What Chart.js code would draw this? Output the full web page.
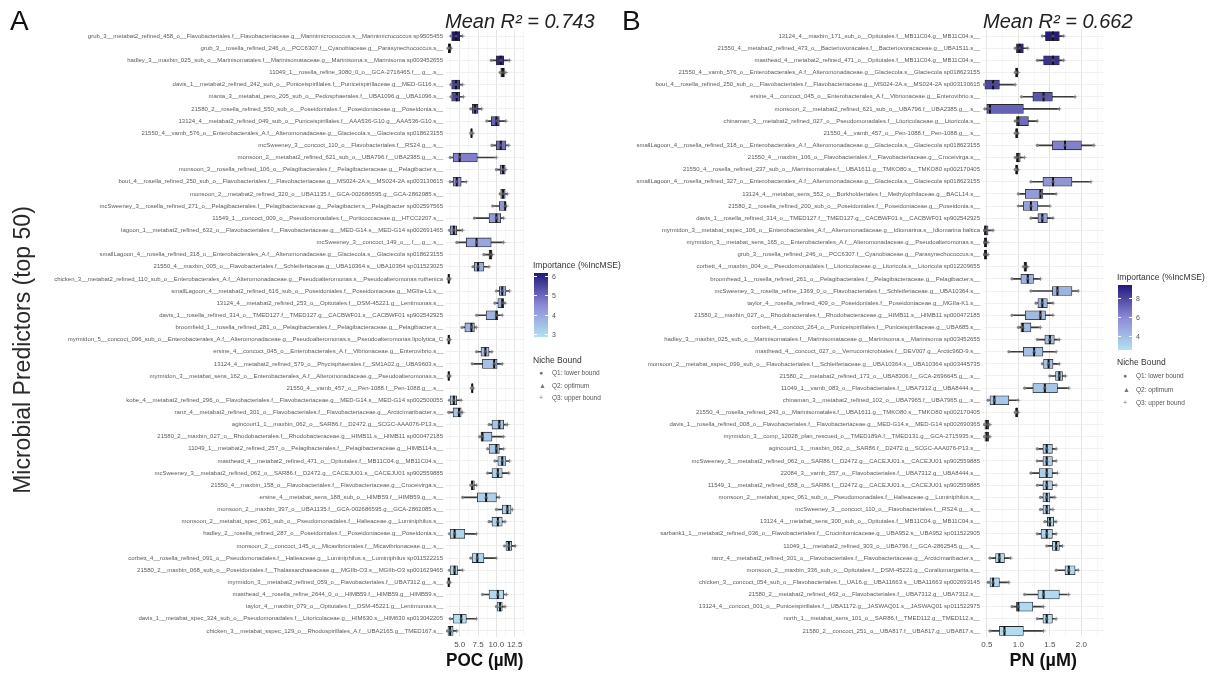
<!DOCTYPE html>
<html>
<head>
<meta charset="utf-8">
<script src="https://cdn.jsdelivr.net/npm/chart.js@4.4.1/dist/chart.umd.min.js"></script>
<style>
  html, body { margin: 0; padding: 0; background: #fff; }
  body { width: 1207px; height: 675px; position: relative; overflow: hidden;
         font-family: "Liberation Sans", Arial, sans-serif; }
  canvas { position: absolute; top: 0; }
  #chartA { left: 0; }
  #chartB { left: 590px; }
  .tag { position: absolute; font-size: 28px; color: #111; line-height: 1; }
  .r2 { position: absolute; font-size: 20px; font-style: italic; color: #222; line-height: 1; white-space: nowrap; }
  .ytitle { position: absolute; left: 22px; top: 350px; font-size: 23px; color: #2a2a2a; line-height: 1;
            white-space: nowrap; transform: translate(-50%, -50%) rotate(-90deg); }
  #legendA, #legendB { position: absolute; left: 0; top: 0; width: 1207px; height: 675px; transform: translateZ(0); }
  .lg { position: absolute; color: #444; white-space: nowrap; line-height: 1; }
  .lg-title { font-size: 8.5px; color: #333; }
  .lg-bar { position: absolute; }
  .lg-tick { font-size: 7px; color: #555; }
  .lg-item { font-size: 6.5px; color: #555; }
  .lg-icon { font-size: 7px; color: #777; }
</style>
</head>
<body>
<canvas id="chartA" width="530" height="675"></canvas>
<canvas id="chartB" width="520" height="675"></canvas>
<div class="tag" style="left:10px;top:7px;">A</div>
<div class="tag" style="left:622px;top:7px;">B</div>
<div class="r2" style="left:445px;top:11px;">Mean R² = 0.743</div>
<div class="r2" style="left:983px;top:11px;">Mean R² = 0.662</div>
<div class="ytitle">Microbial Predictors (top 50)</div>
<div id="legendA"></div>
<div id="legendB"></div>
<script>
// ---------- Panel A: POC ----------
const pocPredictors = [
  "grub_3__metabat2_refined_458_o__Flavobacteriales.f__Flavobacteriaceae.g__Marinimicrococcus.s__Marinimicrococcus sp9505455",
  "grub_3__rosella_refined_246_o__PCC6307.f__Cyanobiaceae.g__Parasynechococcus.s__",
  "hadley_3__maxbin_025_sub_o__Marinisomatales.f__Marinisomataceae.g__Marinisoma.s__Marinisoma sp003452655",
  "11049_1__rosella_refine_3080_0_o__GCA-2716465.f__.g__.s__",
  "davis_1__metabat2_refined_242_sub_o__Puniceispirillales.f__Puniceispirillaceae.g__MED-G116.s__",
  "manta_3__metabat_pero_205_sub_o__Pedosphaerales.f__UBA1096.g__UBA1096.s__",
  "21580_2__rosella_refined_550_sub_o__Poseidoniales.f__Poseidoniaceae.g__Poseidonia.s__",
  "13124_4__metabat2_refined_049_sub_o__Puniceispirillales.f__AAA536-G10.g__AAA536-G10.s__",
  "21550_4__vamb_576_o__Enterobacterales_A.f__Alteromonadaceae.g__Glaciecola.s__Glaciecola sp018623155",
  "mcSweeney_3__concoct_110_o__Flavobacteriales.f__RS24.g__.s__",
  "monsoon_2__metabat2_refined_621_sub_o__UBA796.f__UBA2385.g__.s__",
  "monsoon_3__rosella_refined_106_o__Pelagibacterales.f__Pelagibacteraceae.g__Pelagibacter.s__",
  "bout_4__rosella_refined_250_sub_o__Flavobacteriales.f__Flavobacteriaceae.g__MS024-2A.s__MS024-2A sp003130615",
  "monsoon_2__metabat2_refined_320_o__UBA1135.f__GCA-002686595.g__GCA-2862085.s__",
  "mcSweeney_3__rosella_refined_271_o__Pelagibacterales.f__Pelagibacteraceae.g__Pelagibacter.s__Pelagibacter sp002597565",
  "11549_1__concoct_009_o__Pseudomonadales.f__Porticoccaceae.g__HTCC2207.s__",
  "lagoon_1__metabat2_refined_632_o__Flavobacteriales.f__Flavobacteriaceae.g__MED-G14.s__MED-G14 sp002691465",
  "mcSweeney_3__concoct_149_o__.f__.g__.s__",
  "smallLagoon_4__rosella_refined_318_o__Enterobacterales_A.f__Alteromonadaceae.g__Glaciecola.s__Glaciecola sp018623155",
  "21550_4__maxbin_005_o__Flavobacteriales.f__Schleiferiaceae.g__UBA10364.s__UBA10364 sp011523025",
  "chicken_3__metabat2_refined_110_sub_o__Enterobacterales_A.f__Alteromonadaceae.g__Pseudoalteromonas.s__Pseudoalteromonas ruthenica",
  "smallLagoon_4__metabat2_refined_616_sub_o__Poseidoniales.f__Poseidoniaceae.g__MGIIa-L1.s__",
  "13124_4__metabat2_refined_253_o__Opitutales.f__DSM-45221.g__Lentimonas.s__",
  "davis_1__rosella_refined_314_o__TMED127.f__TMED127.g__CACBWF01.s__CACBWF01 sp902542925",
  "broomfield_1__rosella_refined_281_o__Pelagibacterales.f__Pelagibacteraceae.g__Pelagibacter.s__",
  "myrmidon_5__concoct_096_sub_o__Enterobacterales_A.f__Alteromonadaceae.g__Pseudoalteromonas.s__Pseudoalteromonas lipolytica_C",
  "ersine_4__concoct_045_o__Enterobacterales_A.f__Vibrionaceae.g__Enterovibrio.s__",
  "13124_4__metabat2_refined_579_o__Phycisphaerales.f__SM1A02.g__UBA9603.s__",
  "myrmidon_3__metabat_sens_162_o__Enterobacterales_A.f__Alteromonadaceae.g__Pseudoalteromonas.s__",
  "21550_4__vamb_457_o__Pen-1088.f__Pen-1088.g__.s__",
  "kobe_4__metabat2_refined_296_o__Flavobacteriales.f__Flavobacteriaceae.g__MED-G14.s__MED-G14 sp002500055",
  "ranz_4__metabat2_refined_301_o__Flavobacteriales.f__Flavobacteriaceae.g__Arcticimaribacter.s__",
  "agincourt1_1__maxbin_062_o__SAR86.f__D2472.g__SCGC-AAA076-P13.s__",
  "21580_2__maxbin_027_o__Rhodobacterales.f__Rhodobacteraceae.g__HIMB11.s__HIMB11 sp000472185",
  "11049_1__metabat2_refined_257_o__Pelagibacterales.f__Pelagibacteraceae.g__HIMB114.s__",
  "masthead_4__metabat2_refined_471_o__Opitutales.f__MB11C04.g__MB11C04.s__",
  "mcSweeney_3__metabat2_refined_062_o__SAR86.f__D2472.g__CACEJU01.s__CACEJU01 sp902559885",
  "21550_4__maxbin_158_o__Flavobacteriales.f__Flavobacteriaceae.g__Croceivirga.s__",
  "ersine_4__metabat_sens_188_sub_o__HIMB59.f__HIMB59.g__.s__",
  "monsoon_2__maxbin_397_o__UBA1135.f__GCA-002686595.g__GCA-2862085.s__",
  "monsoon_2__metabat_spec_061_sub_o__Pseudomonadales.f__Halieaceae.g__Luminiphilus.s__",
  "hadley_2__rosella_refined_287_o__Poseidoniales.f__Poseidoniaceae.g__Poseidonia.s__",
  "monsoon_2__concoct_145_o__Micavibrionales.f__Micavibrionaceae.g__.s__",
  "corbett_4__rosella_refined_091_o__Pseudomonadales.f__Halieaceae.g__Luminiphilus.s__Luminiphilus sp011522215",
  "21580_2__maxbin_068_sub_o__Poseidoniales.f__Thalassarchaeaceae.g__MGIIb-O3.s__MGIIb-O3 sp001629465",
  "myrmidon_3__metabat2_refined_059_o__Flavobacteriales.f__UBA7312.g__.s__",
  "masthead_4__rosella_refine_2644_0_o__HIMB59.f__HIMB59.g__HIMB59.s__",
  "taylor_4__maxbin_079_o__Opitutales.f__DSM-45221.g__Lentimonas.s__",
  "davis_1__metabat_spec_324_sub_o__Pseudomonadales.f__Litoricolaceae.g__HIM630.s__HIM630 sp013042205",
  "chicken_3__metabat_sspec_129_o__Rhodospirillales_A.f__UBA2165.g__TMED167.s__"
];
// niche bounds (µM): Q1 lower bound, box edges, Q2 optimum, Q3 upper bound
const pocQ1 =    [3.8,3.4,9.3,10.5,3.8,3.8,6.5,8.7,6.5,9.4, 3.7,10.0,3.7,10.5,9.5,7.0,3.6,4.6,8.3,6.8, 3.4,10.0,9.8,7.3,5.3,3.4,7.3,6.7,3.4,6.6, 3.6,3.5,9.0,7.7,8.8,9.8,8.8,6.5,5.4,10.0, 9.0,3.6,11.1,6.5,3.6,3.4,8.1,10.0,3.7,3.3];
const pocBoxLo = [3.9,3.45,10.0,10.6,3.9,3.9,6.7,9.3,6.55,10.0, 4.1,10.5,4.1,10.6,10.4,9.0,3.7,5.9,9.0,7.0, 3.45,10.4,10.2,8.6,5.7,3.45,7.9,8.1,3.45,6.65, 3.7,4.1,9.4,7.9,9.0,10.2,9.4,6.6,7.4,10.8, 9.4,3.7,11.3,6.7,3.7,3.45,9.0,10.1,4.1,3.4];
const pocQ2 =    [4.5,3.6,10.6,10.9,4.5,4.6,7.1,10.0,6.6,10.6, 5.0,10.9,4.6,10.9,11.2,10.0,4.2,7.3,9.2,7.5, 3.5,10.8,10.8,10.0,6.6,3.5,8.5,9.7,3.5,6.7, 4.2,4.9,10.4,8.1,10.0,10.8,10.2,6.7,8.6,11.5, 10.2,4.3,11.7,7.4,4.3,3.5,10.2,10.5,5.2,3.7];
const pocBoxHi = [5.0,3.75,11.0,11.1,5.0,5.0,7.5,10.4,6.7,11.3, 7.4,11.2,5.2,11.2,11.3,10.6,4.6,9.3,9.4,8.3, 3.6,11.3,11.0,10.2,7.0,3.6,9.0,10.1,3.6,6.8, 4.6,5.2,11.0,9.4,10.4,11.3,10.8,7.0,10.0,12.0, 10.8,5.7,12.1,8.3,4.7,3.6,11.0,10.8,5.9,4.1];
const pocQ3 =    [5.4,3.85,11.8,11.3,5.4,5.5,8.0,11.3,6.8,11.7, 10.0,11.3,5.9,11.5,11.4,11.0,5.4,11.0,9.5,9.0, 3.7,11.8,11.2,10.8,7.3,3.7,9.4,10.8,3.7,6.85, 5.2,5.4,11.5,11.0,11.0,11.8,11.7,7.3,10.4,12.2, 11.2,7.3,12.6,10.0,5.4,3.7,11.4,11.2,7.3,4.6];
const pocImportance = [6.4,6.2,6.0,5.8,5.6,5.5,5.3,5.1,5.0,4.9, 4.7,4.6,4.5,4.4,4.3,4.2,4.1,4.0,4.0,3.9, 3.9,3.8,3.8,3.7,3.7,3.6,3.6,3.5,3.5,3.5, 3.4,3.4,3.4,3.3,3.3,3.3,3.2,3.2,3.2,3.2, 3.1,3.1,3.1,3.1,3.0,3.0,3.0,3.0,2.9,2.9];
const pocTickLabels = [5, 7.5, 10, 12.5];
const pocMinorTicks = [3.75, 6.25, 8.75, 11.25, 13.75];
const pocLegendTicks = [6, 5, 4, 3];

// ---------- Panel B: PN ----------
const pnPredictors = [
  "13124_4__maxbin_171_sub_o__Opitutales.f__MB11C04.g__MB11C04.s__",
  "21550_4__metabat2_refined_473_o__Bacteriovoracales.f__Bacteriovoracaceae.g__UBA1511.s__",
  "masthead_4__metabat2_refined_471_o__Opitutales.f__MB11C04.g__MB11C04.s__",
  "21550_4__vamb_576_o__Enterobacterales_A.f__Alteromonadaceae.g__Glaciecola.s__Glaciecola sp018623155",
  "bout_4__rosella_refined_250_sub_o__Flavobacteriales.f__Flavobacteriaceae.g__MS024-2A.s__MS024-2A sp003130615",
  "ersine_4__concoct_045_o__Enterobacterales_A.f__Vibrionaceae.g__Enterovibrio.s__",
  "monsoon_2__metabat2_refined_621_sub_o__UBA796.f__UBA2385.g__.s__",
  "chinaman_3__metabat2_refined_027_o__Pseudomonadales.f__Litoricolaceae.g__Litoricola.s__",
  "21550_4__vamb_457_o__Pen-1088.f__Pen-1088.g__.s__",
  "smallLagoon_4__rosella_refined_318_o__Enterobacterales_A.f__Alteromonadaceae.g__Glaciecola.s__Glaciecola sp018623155",
  "21550_4__maxbin_106_o__Flavobacteriales.f__Flavobacteriaceae.g__Croceivirga.s__",
  "21550_4__rosella_refined_237_sub_o__Marinisomatales.f__UBA1611.g__TMKO80.s__TMKO80 sp002170405",
  "smallLagoon_4__rosella_refined_327_o__Enterobacterales_A.f__Alteromonadaceae.g__Glaciecola.s__Glaciecola sp018623155",
  "13124_4__metabat_sens_552_o__Burkholderiales.f__Methylophilaceae.g__BACL14.s__",
  "21580_2__rosella_refined_200_sub_o__Poseidoniales.f__Poseidoniaceae.g__Poseidonia.s__",
  "davis_1__rosella_refined_314_o__TMED127.f__TMED127.g__CACBWF01.s__CACBWF01 sp902542925",
  "myrmidon_3__metabat_sspec_106_o__Enterobacterales_A.f__Alteromonadaceae.g__Idiomarina.s__Idiomarina baltica",
  "myrmidon_3__metabat_sens_165_o__Enterobacterales_A.f__Alteromonadaceae.g__Pseudoalteromonas.s__",
  "grub_3__rosella_refined_246_o__PCC6307.f__Cyanobiaceae.g__Parasynechococcus.s__",
  "corbett_4__maxbin_004_o__Pseudomonadales.f__Litoricolaceae.g__Litoricola.s__Litoricola sp012209655",
  "broomhead_1__rosella_refined_261_o__Pelagibacterales.f__Pelagibacteraceae.g__Pelagibacter.s__",
  "mcSweeney_3__rosella_refine_1369_0_o__Flavobacteriales.f__Schleiferiaceae.g__UBA10364.s__",
  "taylor_4__rosella_refined_409_o__Poseidoniales.f__Poseidoniaceae.g__MGIIa-K1.s__",
  "21580_2__maxbin_027_o__Rhodobacterales.f__Rhodobacteraceae.g__HIMB11.s__HIMB11 sp000472185",
  "corbett_4__concoct_264_o__Puniceispirillales.f__Puniceispirillaceae.g__UBA685.s__",
  "hadley_3__maxbin_025_sub_o__Marinisomatales.f__Marinisomataceae.g__Marinisoma.s__Marinisoma sp003452655",
  "masthead_4__concoct_027_o__Verrucomicrobiales.f__DEV007.g__Arctic96D-9.s__",
  "monsoon_2__metabat_sspec_099_sub_o__Flavobacteriales.f__Schleiferiaceae.g__UBA10364.s__UBA10364 sp003445735",
  "21580_2__metabat2_refined_173_o__UBA8306.f__GCA-2696645.g__.s__",
  "11049_1__vamb_083_o__Flavobacteriales.f__UBA7312.g__UBA8444.s__",
  "chinaman_3__metabat2_refined_102_o__UBA7965.f__UBA7965.g__.s__",
  "21550_4__rosella_refined_243_o__Marinisomatales.f__UBA1611.g__TMKO80.s__TMKO80 sp002170405",
  "davis_1__rosella_refined_008_o__Flavobacteriales.f__Flavobacteriaceae.g__MED-G14.s__MED-G14 sp002690365",
  "myrmidon_3__comp_12028_plan_rescued_o__TMED189A.f__TMED131.g__GCA-2715935.s__",
  "agincourt1_1__maxbin_062_o__SAR86.f__D2472.g__SCGC-AAA076-P13.s__",
  "mcSweeney_3__metabat2_refined_062_o__SAR86.f__D2472.g__CACEJU01.s__CACEJU01 sp902559885",
  "22084_3__vamb_357_o__Flavobacteriales.f__UBA7312.g__UBA8444.s__",
  "11549_1__metabat2_refined_658_o__SAR86.f__D2472.g__CACEJU01.s__CACEJU01 sp902559885",
  "monsoon_2__metabat_spec_061_sub_o__Pseudomonadales.f__Halieaceae.g__Luminiphilus.s__",
  "mcSweeney_3__concoct_110_o__Flavobacteriales.f__RS24.g__.s__",
  "13124_4__metabat_sens_300_sub_o__Opitutales.f__MB11C04.g__MB11C04.s__",
  "sarbank1_1__metabat2_refined_036_o__Flavobacteriales.f__Crocinitomicaceae.g__UBA952.s__UBA952 sp011522905",
  "11049_1__metabat2_refined_303_o__UBA796.f__GCA-2862545.g__.s__",
  "ranz_4__metabat2_refined_301_o__Flavobacteriales.f__Flavobacteriaceae.g__Arcticimaribacter.s__",
  "monsoon_2__maxbin_336_sub_o__Opitutales.f__DSM-45221.g__Coraliomargarita.s__",
  "chicken_3__concoct_054_sub_o__Flavobacteriales.f__UA16.g__UBA11663.s__UBA11663 sp002693145",
  "21580_2__metabat2_refined_462_o__Flavobacteriales.f__UBA7312.g__UBA7312.s__",
  "13124_4__concoct_001_o__Puniceispirillales.f__UBA1172.g__JASWAQ01.s__JASWAQ01 sp011522975",
  "north_1__metabat_sens_101_o__SAR86.f__TMED112.g__TMED112.s__",
  "21580_2__concoct_251_o__UBA817.f__UBA817.g__UBA817.s__"
];
const pnQ1 =    [1.38,0.95,1.30,0.95,0.46,1.05,0.47,0.95,0.95,1.30, 0.95,0.95,1.20,1.00,1.00,1.20,0.44,0.44,0.44,1.08, 0.90,1.20,1.28,0.90,1.00,1.30,0.85,1.38,1.50,1.10, 0.52,0.95,0.46,0.46,1.30,1.30,1.20,1.30,1.35,1.35, 1.42,1.30,1.45,0.55,1.60,0.52,1.10,0.90,1.30,0.55];
const pnBoxLo = [1.43,0.97,1.40,0.96,0.47,1.23,0.50,0.97,0.96,1.54, 0.97,0.96,1.39,1.11,1.08,1.31,0.46,0.46,0.46,1.09, 1.04,1.54,1.31,1.11,1.04,1.42,1.08,1.40,1.59,1.23, 0.55,0.96,0.47,0.47,1.39,1.39,1.33,1.39,1.39,1.39, 1.46,1.36,1.54,0.64,1.74,0.55,1.31,0.97,1.39,0.70];
const pnQ2 =    [1.55,1.02,1.55,0.97,0.60,1.40,0.55,1.00,0.97,1.74, 0.99,0.97,1.55,1.35,1.20,1.38,0.48,0.48,0.48,1.11, 1.15,1.62,1.38,1.35,1.07,1.50,1.25,1.48,1.65,1.42, 0.62,0.97,0.50,0.50,1.45,1.45,1.45,1.45,1.45,1.45, 1.50,1.45,1.60,0.70,1.80,0.60,1.40,1.00,1.45,0.78];
const pnBoxHi = [1.65,1.08,1.65,0.99,0.70,1.54,1.08,1.16,0.99,2.00, 1.03,0.99,1.85,1.39,1.31,1.46,0.52,0.50,0.50,1.13, 1.24,1.85,1.46,1.43,1.20,1.57,1.39,1.55,1.70,1.62, 0.85,0.99,0.53,0.53,1.54,1.54,1.54,1.54,1.50,1.50, 1.56,1.54,1.65,0.78,1.90,0.70,1.65,1.23,1.54,1.08];
const pnQ3 =    [1.72,1.15,1.72,1.00,0.95,1.90,1.65,1.30,1.00,2.20, 1.10,1.00,2.15,1.60,1.50,1.55,0.60,0.52,0.52,1.15, 1.35,1.95,1.55,1.55,1.35,1.65,1.60,1.65,1.75,1.80, 1.00,1.00,0.55,0.55,1.60,1.60,1.62,1.60,1.58,1.55, 1.60,1.60,1.70,0.88,1.95,0.85,1.80,1.40,1.60,1.40];
const pnImportance = [9.3,9.0,8.6,8.3,8.0,7.6,7.2,6.9,6.6,6.3, 6.0,5.8,5.6,5.4,5.2,5.0,4.9,4.8,4.7,4.6, 4.5,4.4,4.3,4.2,4.1,4.0,3.9,3.9,3.8,3.7, 3.6,3.6,3.5,3.5,3.4,3.4,3.3,3.3,3.2,3.2, 3.1,3.1,3.1,3.0,3.0,3.0,2.9,2.9,2.8,2.8];
const pnTickLabels = [0.5, 1.0, 1.5, 2.0];
const pnMinorTicks = [0.75, 1.25, 1.75, 2.25];
const pnLegendTicks = [8, 6, 4];

// ---------- colour scale for %IncMSE ----------
const impStops = [[0, [178, 226, 242]], [0.5, [139, 138, 214]], [1, [33, 24, 126]]];
function impColor(v, lo, hi) {
  const t = Math.min(1, Math.max(0, (v - lo) / (hi - lo)));
  for (let k = 1; k < impStops.length; k++) {
    const [t0, c0] = impStops[k - 1], [t1, c1] = impStops[k];
    if (t <= t1) {
      const f = (t - t0) / (t1 - t0);
      return 'rgb(' + c0.map((c, j) => Math.round(c + (c1[j] - c) * f)).join(',') + ')';
    }
  }
  return 'rgb(' + impStops[impStops.length - 1][1].join(',') + ')';
}

Chart.defaults.font.family = '"Liberation Sans", Arial, sans-serif';

function nicheChart(canvasId, p) {
  const fills = p.importance.map(v => impColor(v, p.impLo, p.impHi));
  const gridValues = p.majors.concat(p.minors).sort((a, b) => a - b);
  return new Chart(document.getElementById(canvasId), {
    type: 'bar',
    data: {
      labels: p.labels,
      datasets: [
        { label: 'whisker', data: p.labels.map((_, i) => [p.q1[i], p.q3[i]]),
          backgroundColor: '#3a3a3a', barThickness: 1, grouped: false, order: 5 },
        { label: 'box', data: p.labels.map((_, i) => [p.boxLo[i], p.boxHi[i]]),
          backgroundColor: fills, borderColor: '#262626', borderWidth: 0.8, borderSkipped: false,
          barThickness: 9, grouped: false, order: 4 },
        { type: 'line', label: 'median', indexAxis: 'y', data: p.q2, showLine: false,
          pointStyle: 'line', pointRotation: 90, pointRadius: 4.5, pointBorderColor: '#111',
          pointBorderWidth: 2, order: 3 },
        { type: 'line', label: 'Q1: lower bound', indexAxis: 'y', data: p.q1, showLine: false,
          pointStyle: 'circle', pointRadius: 1.3, pointBackgroundColor: '#808080',
          pointBorderColor: '#808080', pointBorderWidth: 0.5, order: 1 },
        { type: 'line', label: 'Q2: optimum', indexAxis: 'y', data: p.q2, showLine: false,
          pointStyle: 'triangle', pointRadius: 1.8, pointBackgroundColor: '#555',
          pointBorderColor: '#555', pointBorderWidth: 0.5, order: 1 },
        { type: 'line', label: 'Q3: upper bound', indexAxis: 'y', data: p.q3, showLine: false,
          pointStyle: 'cross', pointRadius: 2, pointBorderColor: '#808080',
          pointBorderWidth: 0.8, order: 1 }
      ]
    },
    options: {
      indexAxis: 'y',
      responsive: false,
      animation: false,
      devicePixelRatio: 1,
      layout: { padding: p.padding },
      plugins: { legend: { display: false }, tooltip: { enabled: false } },
      scales: {
        x: {
          type: 'linear', min: p.xMin, max: p.xMax,
          afterBuildTicks: s => { s.ticks = gridValues.map(v => ({ value: v })); },
          afterFit: s => { s.height = 38; },
          ticks: {
            autoSkip: false, maxRotation: 0, padding: 3, color: '#4d4d4d', font: { size: 8 },
            callback: v => p.majors.includes(v) ? v.toFixed(1) : ''
          },
          grid: {
            drawTicks: false,
            color: ctx => p.majors.includes(ctx.tick && ctx.tick.value) ? '#e4e4e4' : '#f1f1f1',
            lineWidth: ctx => p.majors.includes(ctx.tick && ctx.tick.value) ? 1 : 0.6
          },
          border: { display: false },
          title: { display: true, text: p.xTitle, color: '#111',
                   font: { size: 18, weight: 'bold' }, padding: { top: 2, bottom: 3 } }
        },
        y: {
          type: 'category', offset: true,
          afterFit: s => { s.width = p.yWidth; },
          ticks: { autoSkip: false, padding: 3, color: '#5a5a5a', font: { size: 6 } },
          grid: { offset: false, drawTicks: false, color: '#ececec', lineWidth: 0.8 },
          border: { display: false }
        }
      }
    }
  });
}

nicheChart('chartA', {
  labels: pocPredictors, q1: pocQ1, boxLo: pocBoxLo, q2: pocQ2, boxHi: pocBoxHi, q3: pocQ3,
  importance: pocImportance, impLo: 2.85, impHi: 6.2,
  majors: pocTickLabels, minors: pocMinorTicks, xMin: 3.13, xMax: 13.7,
  xTitle: 'POC (µM)', yWidth: 440,
  padding: { left: 6, right: 5, top: 30, bottom: 0 }
});
nicheChart('chartB', {
  labels: pnPredictors, q1: pnQ1, boxLo: pnBoxLo, q2: pnQ2, boxHi: pnBoxHi, q3: pnQ3,
  importance: pnImportance, impLo: 2.6, impHi: 9.4,
  majors: pnTickLabels, minors: pnMinorTicks, xMin: 0.44, xMax: 2.35,
  xTitle: 'PN (µM)', yWidth: 393,
  padding: { left: 0, right: 2, top: 30, bottom: 0 }
});

// ---------- legends: importance colour bar + niche bound symbols ----------
function buildLegend(id, L) {
  const root = document.getElementById(id);
  const add = (cls, text, x, y) => {
    const d = document.createElement('div');
    d.className = 'lg ' + cls;
    d.textContent = text;
    d.style.left = x + 'px';
    d.style.top = y + 'px';
    root.appendChild(d);
    return d;
  };
  add('lg-title', 'Importance (%IncMSE)', L.x, L.titleY - 4);
  const bar = document.createElement('div');
  bar.className = 'lg-bar';
  const steps = [];
  for (let k = 0; k <= 10; k++) {
    const v = L.hi - (L.hi - L.lo) * k / 10;
    steps.push(impColor(v, L.lo, L.hi) + ' ' + (k * 10) + '%');
  }
  Object.assign(bar.style, { left: (L.x + 1) + 'px', top: L.barTop + 'px', width: '14px',
    height: (L.barBottom - L.barTop) + 'px', background: 'linear-gradient(to bottom,' + steps.join(',') + ')' });
  root.appendChild(bar);
  L.ticks.forEach(v => {
    const y = L.barTop + (L.hi - v) / (L.hi - L.lo) * (L.barBottom - L.barTop);
    add('lg-tick', String(v), L.x + 19, y - 3.5);
    const m = document.createElement('div');
    Object.assign(m.style, { position: 'absolute', left: (L.x + 1) + 'px', top: (y - 0.5) + 'px',
      width: '3px', height: '1px', background: '#fff' });
    root.appendChild(m);
    const m2 = m.cloneNode();
    m2.style.left = (L.x + 12) + 'px';
    root.appendChild(m2);
  });
  add('lg-title', 'Niche Bound', L.x, L.nicheY - 4);
  const items = [['●', 'Q1: lower bound'], ['▲', 'Q2: optimum'], ['+', 'Q3: upper bound']];
  items.forEach((it, k) => {
    const y = L.itemY[k];
    add('lg-icon', it[0], L.x + 6, y - 4);
    add('lg-item', it[1], L.x + 19, y - 3.3);
  });
}

buildLegend('legendA', { x: 533, titleY: 265, barTop: 273, barBottom: 337, lo: 2.85, hi: 6.2,
  ticks: pocLegendTicks, nicheY: 360, itemY: [373, 386, 398] });
buildLegend('legendB', { x: 1117, titleY: 277, barTop: 285, barBottom: 350, lo: 2.6, hi: 9.4,
  ticks: pnLegendTicks, nicheY: 362, itemY: [376, 390, 403] });
</script>
</body>
</html>
